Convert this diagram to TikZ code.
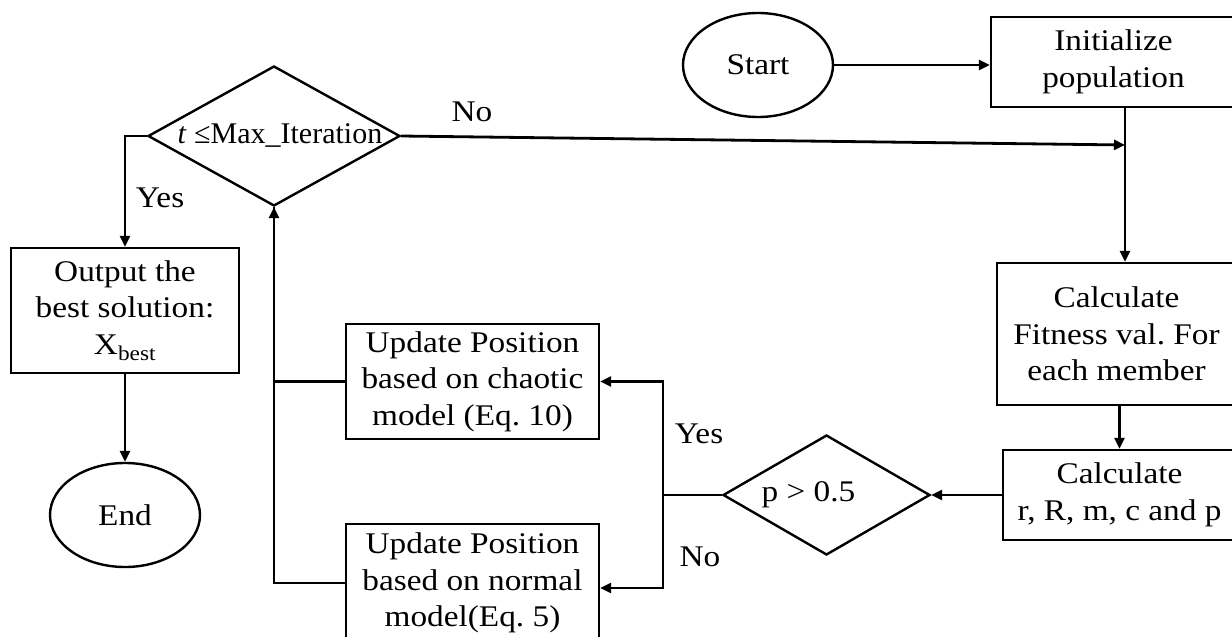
\documentclass[tikz,border=0pt]{standalone}
\usepackage{fontspec}
\setmainfont{Liberation Serif}[FakeStretch=1.11]
\newfontfamily\plainserif{Liberation Serif}
\usetikzlibrary{shapes.geometric,arrows.meta}
\frenchspacing

\begin{document}
\begin{tikzpicture}[x=1pt,y=-1pt,
  every node/.style={font=\fontsize{30}{36.5}\selectfont},
  line/.style={line width=2.8pt},
  flow/.style={line, -{Triangle[length=11pt,width=10pt]}},
  procbox/.style={draw, line width=2.4pt, rectangle, align=center, inner sep=0pt},
  decision/.style={draw, line width=2.4pt, diamond, inner sep=0pt},
  terminal/.style={draw, line width=2.4pt, ellipse, inner sep=0pt,
    minimum width=150pt, minimum height=104pt},
  tag/.style={inner sep=0pt}
]
\useasboundingbox (0,0) rectangle (1232,637);

% terminals
\node[terminal] (start) at (758,65) {Start};
\node[terminal] (end) at (125,515) {End};

% process boxes
\node[procbox, minimum width=245pt, minimum height=90pt] (init) at (1113.5,62)
  {Initialize\\population};
\node[procbox, minimum width=239pt, minimum height=142pt] (calcfit) at (1116.5,334)
  {Calculate\\Fitness val. For\\each member};
\node[procbox, minimum width=233pt, minimum height=90pt] (calcr) at (1119.5,495)
  {Calculate\\r, R, m, c and p};
\node[procbox, minimum width=253pt, minimum height=115pt] (chaotic) at (472.5,381.5)
  {Update Position\\based on chaotic\\model (Eq. 10)};
\node[procbox, minimum width=253pt, minimum height=118pt] (normal) at (472.5,583)
  {Update Position\\based on normal\\model(Eq. 5)};
\node[procbox, minimum width=228pt, minimum height=125pt] (output) at (125,310.5)
  {Output the\\best solution:\\X\textsubscript{best}};

% decisions
\node[decision, minimum width=252pt, minimum height=140pt] (tdec) at (274,136)
  {\makebox[0pt]{\plainserif\hspace*{12pt}\textit{t} ≤Max\_Iteration}};
\node[decision, minimum width=207pt, minimum height=120pt] (pdec) at (826.5,495)
  {\makebox[0pt]{\hspace*{-36pt}p > 0.5}};

% junction points
\coordinate (jtop) at (1125,145);
\coordinate (jp) at (663,495);
\coordinate (jyes) at (663,381.5);
\coordinate (jno) at (663,588);

% connectors
\draw[flow] (start.east) -- (start.east -| init.west);
\draw[line] (init.south -| jtop) -- (jtop);
\draw[flow] (jtop) -- (calcfit.north -| jtop);
\draw[flow] (tdec.east) -- (jtop);
\draw[flow] (calcfit.south -| calcr.north) -- (calcr.north);
\draw[flow] (calcr.west) -- (pdec.east);
\draw[line] (pdec.west) -- (jp);
\draw[flow] (jp) -- (jyes) -- (chaotic.east);
\draw[flow] (jp) -- (jno) -- (jno -| normal.east);
\draw[line] (chaotic.west) -| (tdec.south);
\draw[flow] (normal.west) -| (tdec.south);
\draw[flow] (tdec.west) -| (output.north);
\draw[flow] (output.south) -- (end.north);

% branch labels
\node[tag] (lno1) at (472,112) {No};
\node[tag] (lyes1) at (160,198) {Yes};
\node[tag] (lyes2) at (699,434) {Yes};
\node[tag] (lno2) at (700,557) {No};
\end{tikzpicture}
\end{document}
